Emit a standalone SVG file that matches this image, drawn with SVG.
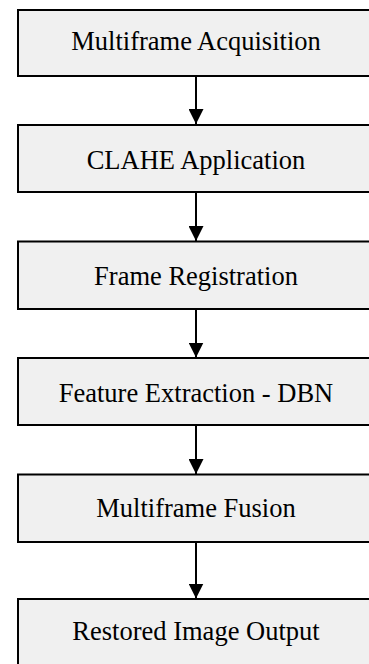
<svg xmlns="http://www.w3.org/2000/svg" width="369" height="664" viewBox="0 0 369 664">
<style>
.box{fill:#f0f0f0;stroke:#000;stroke-width:2}
.lbl{font-family:'Liberation Serif','Tinos','Times New Roman','Nimbus Roman','DejaVu Serif',serif;font-size:26.5px;fill:#000;text-anchor:middle}
.conn{stroke:#000;stroke-width:2;fill:none}
</style>
<defs>
<marker id="ah" markerWidth="15" markerHeight="15" refX="15" refY="7.5" orient="auto" markerUnits="userSpaceOnUse">
<path d="M0,0 L15,7.5 L0,15 Z" fill="#000"/>
</marker>
</defs>
<rect width="369" height="664" fill="#fff"/>
<g id="connectors">
<line class="conn" x1="196" y1="76" x2="196" y2="124" marker-end="url(#ah)"/>
<line class="conn" x1="196" y1="192" x2="196" y2="241" marker-end="url(#ah)"/>
<line class="conn" x1="196" y1="309" x2="196" y2="357.5" marker-end="url(#ah)"/>
<line class="conn" x1="196" y1="425" x2="196" y2="474" marker-end="url(#ah)"/>
<line class="conn" x1="196" y1="542" x2="196" y2="598.5" marker-end="url(#ah)"/>
</g>
<g id="n1"><rect class="box" x="18" y="10" width="358" height="66"/><text class="lbl" x="196" y="50" font-family="Liberation Serif, serif">Multiframe Acquisition</text></g>
<g id="n2"><rect class="box" x="18" y="125" width="358" height="67"/><text class="lbl" x="196" y="168.5" font-family="Liberation Serif, serif">CLAHE Application</text></g>
<g id="n3"><rect class="box" x="18" y="241.5" width="358" height="67.5"/><text class="lbl" x="196" y="284.5" font-family="Liberation Serif, serif">Frame Registration</text></g>
<g id="n4"><rect class="box" x="18" y="358" width="358" height="67"/><text class="lbl" x="196" y="401.5" font-family="Liberation Serif, serif">Feature Extraction - DBN</text></g>
<g id="n5"><rect class="box" x="18" y="474.5" width="358" height="67.5"/><text class="lbl" x="196" y="516.5" font-family="Liberation Serif, serif">Multiframe Fusion</text></g>
<g id="n6"><rect class="box" x="18" y="599" width="358" height="80"/><text class="lbl" x="196" y="640" font-family="Liberation Serif, serif">Restored Image Output</text></g>
</svg>
